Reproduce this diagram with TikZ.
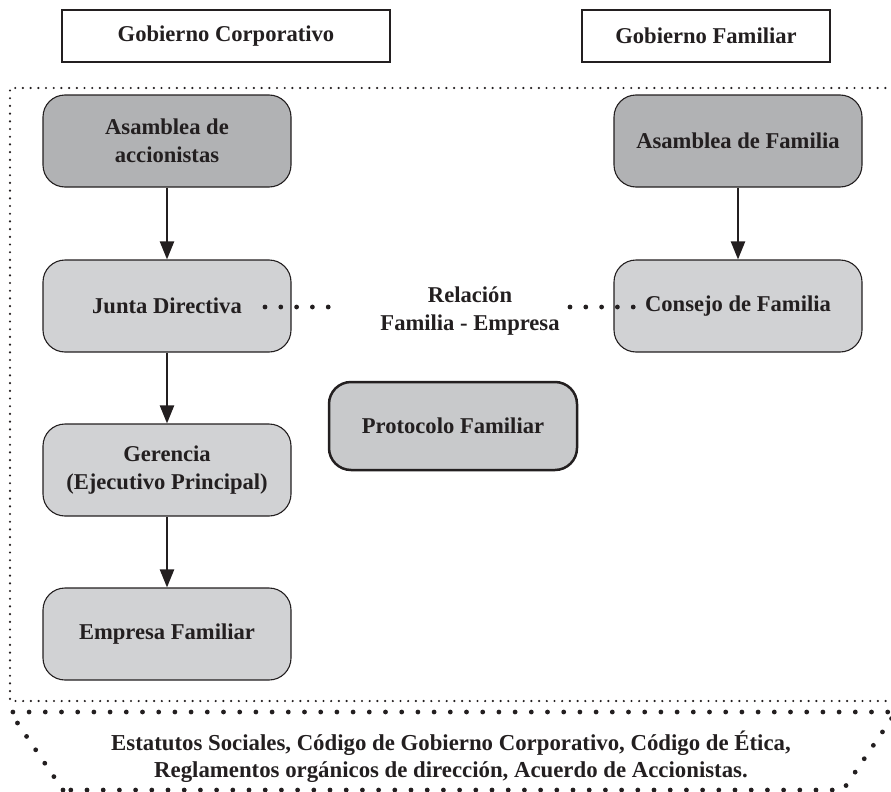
\documentclass[tikz,border=0pt]{standalone}
\usepackage{fontspec}
\setmainfont{Liberation Serif}
\usetikzlibrary{arrows.meta}
\definecolor{txt}{HTML}{231F20}
\definecolor{darkbox}{HTML}{B1B2B4}
\definecolor{lightbox}{HTML}{D1D2D4}
\definecolor{midbox}{HTML}{C8C9CB}
\tikzset{
  lbl/.style={font=\bfseries\fontsize{22.6}{28}\selectfont, text=txt, align=center},
  header/.style={lbl, draw=txt, line width=2pt, minimum height=52pt, inner sep=0pt},
  rbox/.style={lbl, draw=txt, line width=1.1pt, rounded corners=22pt, minimum width=248pt, minimum height=92pt, inner sep=0pt},
  darkr/.style={rbox, fill=darkbox},
  lightr/.style={rbox, fill=lightbox},
  flow/.style={draw=txt, line width=2.2pt, -{Triangle[length=18pt,width=14pt]}},
  smalldots/.style={draw=txt, line width=2.4pt, line cap=round, dash pattern=on 0pt off 7.7pt},
  bigdots/.style={draw=txt, line width=4.8pt, line cap=round, dash pattern=on 0pt off 16.2pt},
  reldots/.style={draw=txt, line width=4.8pt, line cap=round, dash pattern=on 0pt off 15.8pt},
}
\begin{document}
\begin{tikzpicture}[x=1pt,y=-1pt]
\useasboundingbox (0,0) rectangle (891,792);
% headers
\node[header, minimum width=328pt] (hc) at (226,36) {Gobierno Corporativo};
\node[header, minimum width=248pt] (hf) at (706,36) {Gobierno Familiar};
% outer dotted frame
\coordinate (ftr) at (893,88);
\coordinate (ftl) at (10,88);
\coordinate (fbl) at (10,701);
\coordinate (fbr) at (889,701);
\draw[smalldots] (ftr) -- (ftl) -- (fbl) -- (fbr);
% boxes
\node[darkr] (aa) at (167,141) {\fontsize{22.6}{32}\selectfont Asamblea de\\accionistas};
\node[lightr] (jd) at (167,306) {Junta Directiva};
\node[lightr] (ge) at (167,470) {Gerencia\\(Ejecutivo Principal)};
\node[lightr] (ef) at (167,634) {Empresa Familiar};
\node[darkr] (af) at (738,141) {Asamblea de Familia};
\node[lightr] (cf) at (738,306) {Consejo de Familia};
\node[rbox, fill=midbox, line width=2.5pt, minimum width=248pt, minimum height=88pt] (pf) at (453,426) {Protocolo Familiar};
\node[lbl] (rel) at (470,311) {Relación\\Familia - Empresa};
% arrows
\draw[flow] (aa.south) -- (jd.north);
\draw[flow] (jd.south) -- (ge.north);
\draw[flow] (ge.south) -- (ef.north);
\draw[flow] (af.south) -- (cf.north);
% relation dots
\coordinate (ls) at (265,307);
\coordinate (le) at (329,307);
\coordinate (rs) at (570,307);
\coordinate (re) at (634,307);
\draw[reldots] (ls) -- (le);
\draw[reldots] (rs) -- (re);
% bottom trapezoid
\coordinate (t1) at (10,712);
\coordinate (t2) at (896,712);
\coordinate (t3) at (843,790);
\coordinate (t4) at (63,790);
\draw[bigdots] (t4) -- (t1) -- (t2) -- (t3) -- cycle;
\node[lbl, font=\bfseries\fontsize{22.8}{27}\selectfont] (est) at (451,757) {Estatutos Sociales, Código de Gobierno Corporativo, Código de Ética,\\Reglamentos orgánicos de dirección, Acuerdo de Accionistas.};
\end{tikzpicture}
\end{document}
